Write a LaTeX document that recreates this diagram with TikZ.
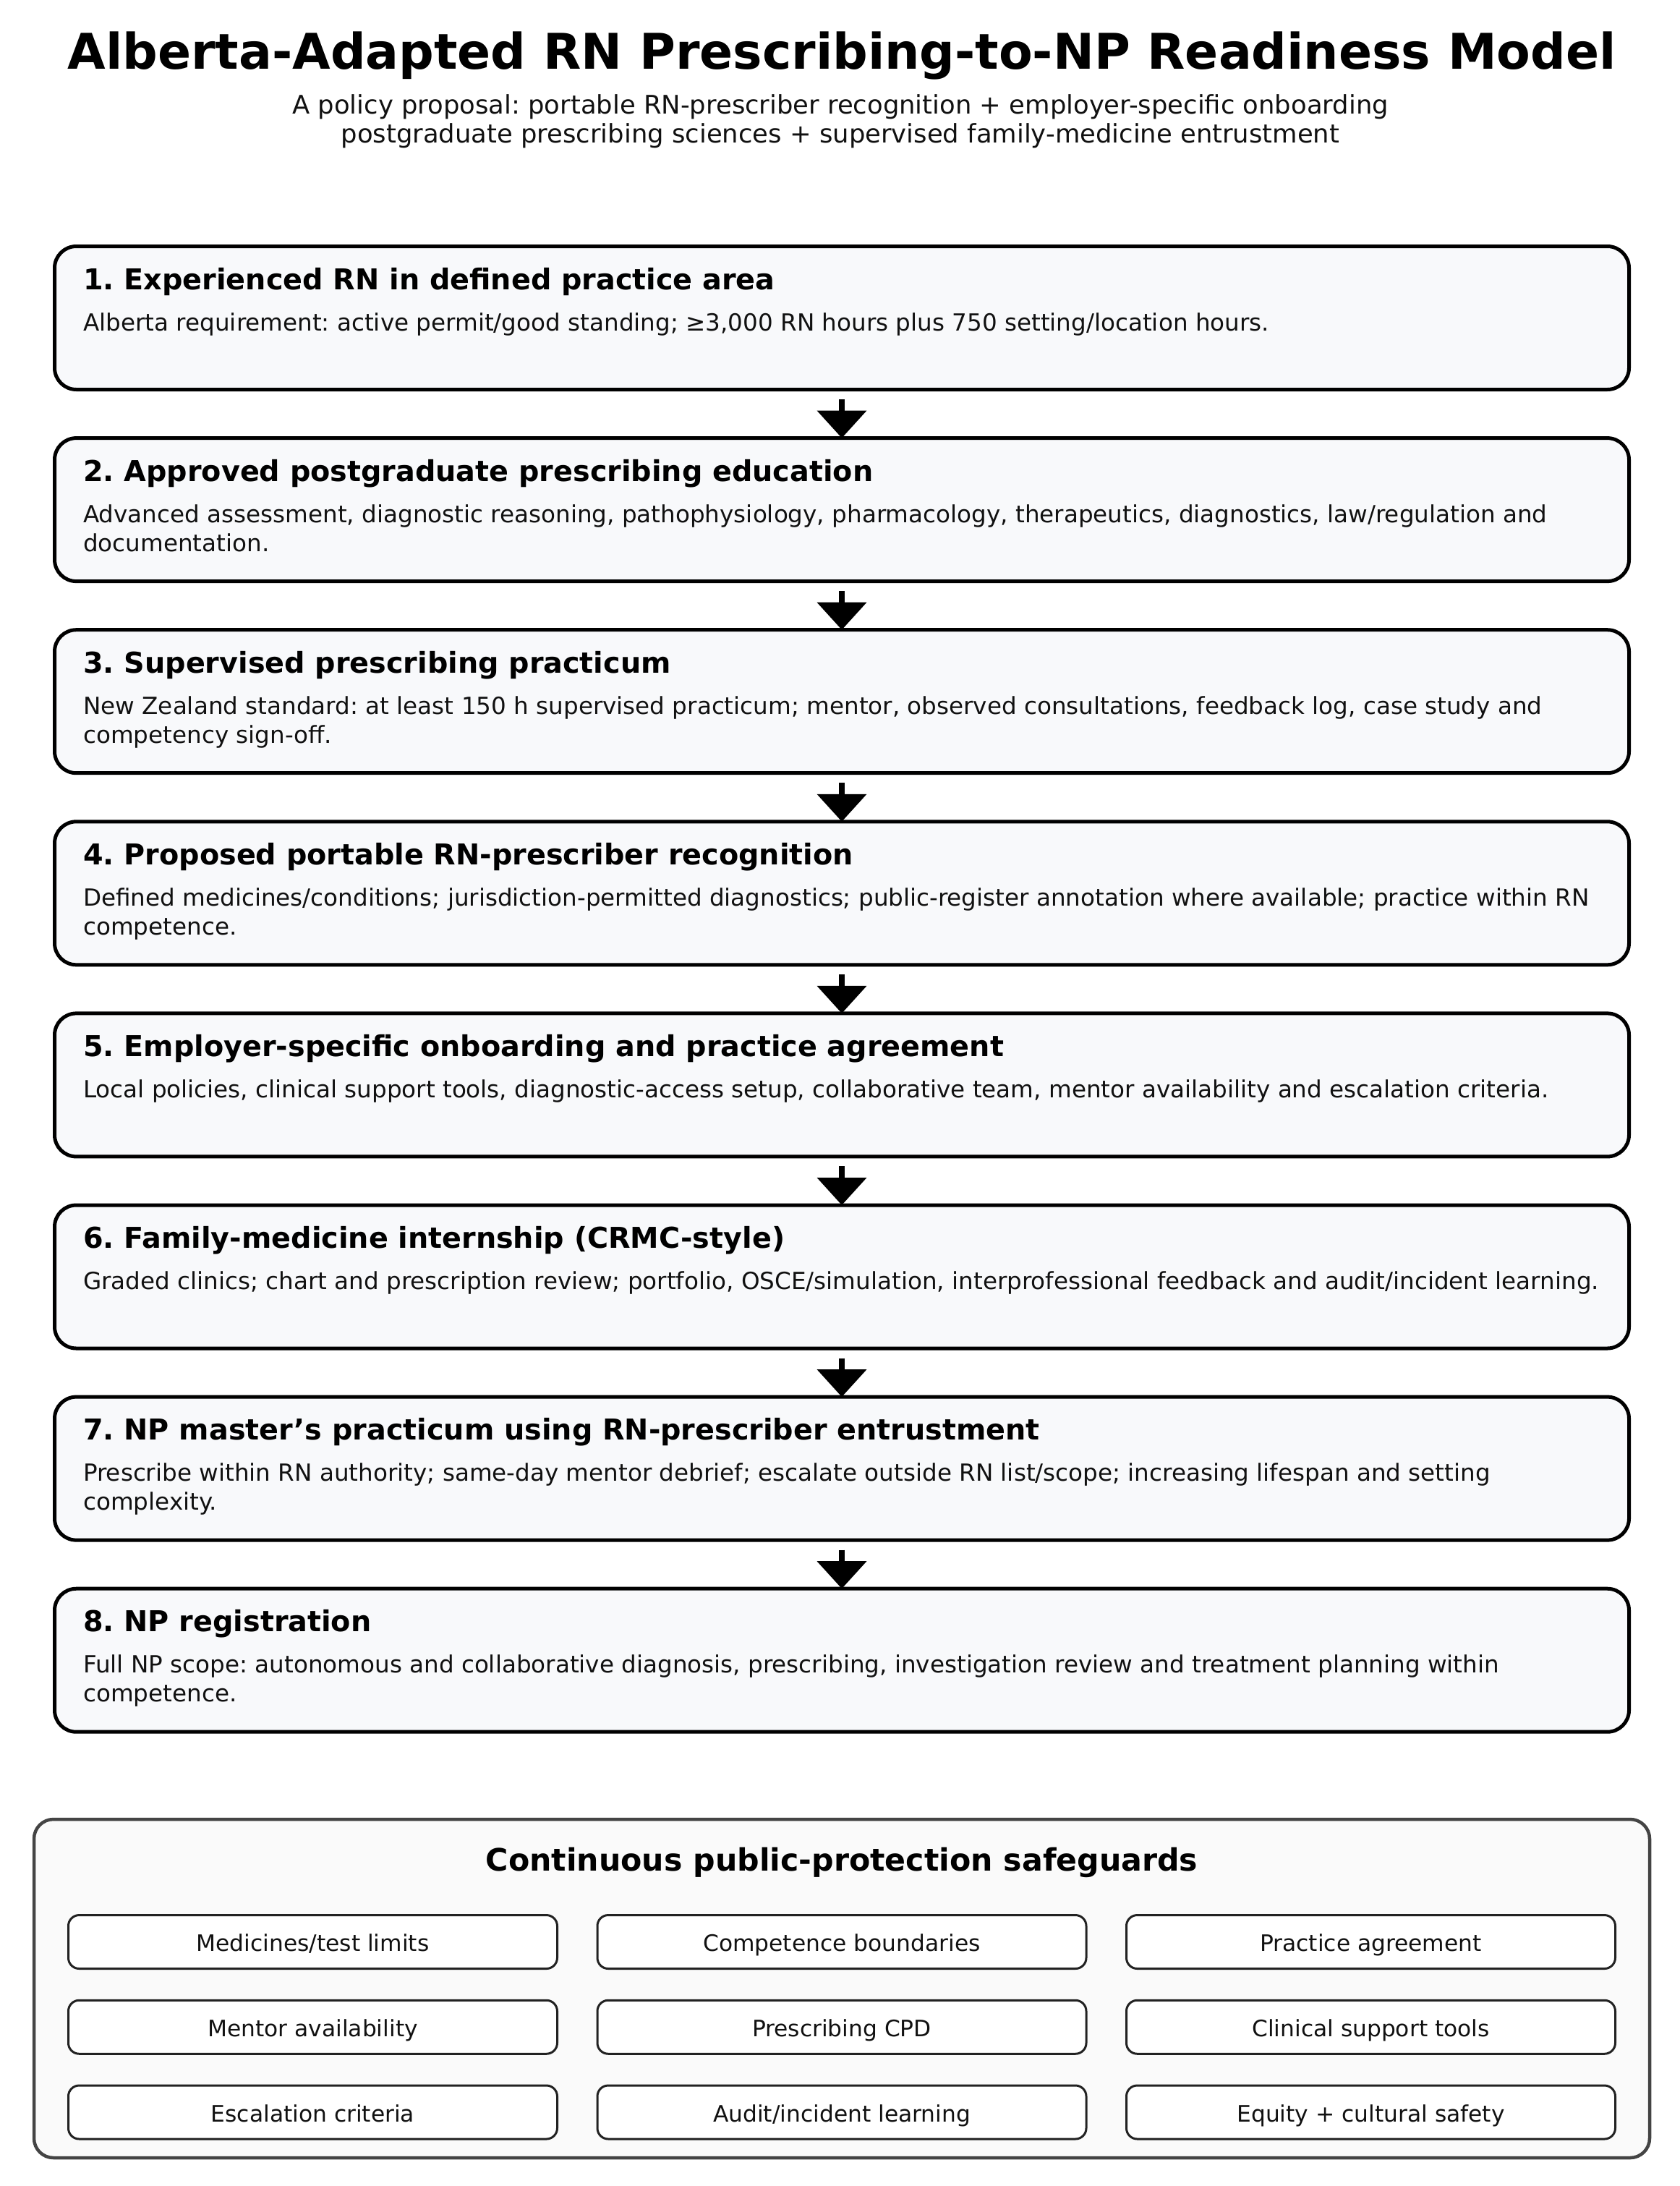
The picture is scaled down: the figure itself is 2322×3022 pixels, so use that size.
\documentclass[tikz,border=0pt]{standalone}
\usepackage{fontspec}
\setmainfont{DejaVu Sans}
\usetikzlibrary{arrows.meta}
\definecolor{boxfill}{HTML}{F8F9FB}
\definecolor{safefill}{HTML}{FAFAFA}
\definecolor{safeline}{HTML}{444444}
\definecolor{itemline}{HTML}{222222}
\definecolor{bodytext}{HTML}{111111}
\frenchspacing
\begin{document}
\begin{tikzpicture}[x=1pt,y=-1pt,
  mainbox/.style={draw=black, line width=5pt, fill=boxfill, rounded corners=30pt,
    minimum width=2177pt, minimum height=198pt, inner sep=0pt, outer sep=0pt},
  steptitle/.style={anchor=base west, inner sep=0pt, font=\fontsize{39.7}{48}\selectfont\bfseries},
  stepbody/.style={anchor=north west, inner sep=0pt, align=left, text=bodytext,
    font=\fontsize{32.6}{40}\selectfont},
  flowarrow/.style={line width=8pt, -{Triangle[width=67pt,length=38pt]}},
  safebox/.style={draw=safeline, line width=4.5pt, fill=safefill, rounded corners=27pt,
    minimum width=2234pt, minimum height=468pt, inner sep=0pt, outer sep=0pt},
  safetitle/.style={anchor=base, inner sep=0pt, font=\fontsize{42.7}{51}\selectfont\bfseries},
  safeitem/.style={draw=itemline, line width=3pt, fill=white, rounded corners=15pt,
    minimum width=676pt, minimum height=74pt, inner sep=0pt, outer sep=0pt},
  safelabel/.style={anchor=base, inner sep=0pt, text=bodytext, font=\fontsize{31.3}{38}\selectfont}
]
\useasboundingbox (0,0) rectangle (2322,3022);
\fill[white] (0,0) rectangle (2322,3022);

% Title
\node[anchor=base, inner sep=0pt, font=\fontsize{68}{80}\selectfont\bfseries] (title) at (1164,95)
  {Alberta-Adapted RN Prescribing-to-NP Readiness Model};
\node[anchor=base, inner sep=0pt, text=bodytext, font=\fontsize{35.4}{42}\selectfont] (sub1) at (1162,157)
  {A policy proposal: portable RN-prescriber recognition + employer-specific onboarding};
\node[anchor=base, inner sep=0pt, text=bodytext, font=\fontsize{35.4}{42}\selectfont] (sub2) at (1162,197)
  {postgraduate prescribing sciences + supervised family-medicine entrustment};

% Step boxes
\node[mainbox] (b1) at (1164,439.5) {};
\node[steptitle] (t1) at (115,400) {1. Experienced RN in defined practice area};
\node[stepbody] (d1) at (115,427) {\rule{0pt}{30pt}Alberta requirement: active permit/good standing; ≥3,000 RN hours plus 750 setting/location hours.};

\node[mainbox] (b2) at (1164,704.6) {};
\node[steptitle] (t2) at (115,665.1) {2. Approved postgraduate prescribing education};
\node[stepbody] (d2) at (115,692.1) {\rule{0pt}{30pt}Advanced assessment, diagnostic reasoning, pathophysiology, pharmacology, therapeutics, diagnostics, law/regulation and\\documentation.};

\node[mainbox] (b3) at (1164,969.7) {};
\node[steptitle] (t3) at (115,930.2) {3. Supervised prescribing practicum};
\node[stepbody] (d3) at (115,957.2) {\rule{0pt}{30pt}New Zealand standard: at least 150 h supervised practicum; mentor, observed consultations, feedback log, case study and\\competency sign-off.};

\node[mainbox] (b4) at (1164,1234.8) {};
\node[steptitle] (t4) at (115,1195.3) {4. Proposed portable RN-prescriber recognition};
\node[stepbody] (d4) at (115,1222.3) {\rule{0pt}{30pt}Defined medicines/conditions; jurisdiction-permitted diagnostics; public-register annotation where available; practice within RN\\competence.};

\node[mainbox] (b5) at (1164,1499.9) {};
\node[steptitle] (t5) at (115,1460.4) {5. Employer-specific onboarding and practice agreement};
\node[stepbody] (d5) at (115,1487.4) {\rule{0pt}{30pt}Local policies, clinical support tools, diagnostic-access setup, collaborative team, mentor availability and escalation criteria.};

\node[mainbox] (b6) at (1164,1765) {};
\node[steptitle] (t6) at (115,1725.5) {6. Family-medicine internship (CRMC-style)};
\node[stepbody] (d6) at (115,1752.5) {\rule{0pt}{30pt}Graded clinics; chart and prescription review; portfolio, OSCE/simulation, interprofessional feedback and audit/incident learning.};

\node[mainbox] (b7) at (1164,2030.1) {};
\node[steptitle] (t7) at (115,1990.6) {7. NP master’s practicum using RN-prescriber entrustment};
\node[stepbody] (d7) at (115,2017.6) {\rule{0pt}{30pt}Prescribe within RN authority; same-day mentor debrief; escalate outside RN list/scope; increasing lifespan and setting\\complexity.};

\node[mainbox] (b8) at (1164,2295.2) {};
\node[steptitle] (t8) at (115,2255.7) {8. NP registration};
\node[stepbody] (d8) at (115,2282.7) {\rule{0pt}{30pt}Full NP scope: autonomous and collaborative diagnosis, prescribing, investigation review and treatment planning within\\competence.};

% Arrows
\draw[flowarrow] ([yshift=-13.5pt]b1.south) -- (b2.north);
\draw[flowarrow] ([yshift=-13.5pt]b2.south) -- (b3.north);
\draw[flowarrow] ([yshift=-13.5pt]b3.south) -- (b4.north);
\draw[flowarrow] ([yshift=-13.5pt]b4.south) -- (b5.north);
\draw[flowarrow] ([yshift=-13.5pt]b5.south) -- (b6.north);
\draw[flowarrow] ([yshift=-13.5pt]b6.south) -- (b7.north);
\draw[flowarrow] ([yshift=-13.5pt]b7.south) -- (b8.north);

% Safeguards
\node[safebox] (safe) at (1164,2749) {};
\node[safetitle] (safet) at (1164,2586) {Continuous public-protection safeguards};

\node[safeitem] (s11) at (432.5,2684.5) {};
\node[safeitem] (s12) at (1164,2684.5) {};
\node[safeitem] (s13) at (1895.5,2684.5) {};
\node[safeitem] (s21) at (432.5,2802.25) {};
\node[safeitem] (s22) at (1164,2802.25) {};
\node[safeitem] (s23) at (1895.5,2802.25) {};
\node[safeitem] (s31) at (432.5,2920) {};
\node[safeitem] (s32) at (1164,2920) {};
\node[safeitem] (s33) at (1895.5,2920) {};

\node[safelabel] (l11) at (432.5,2697.5) {Medicines/test limits};
\node[safelabel] (l12) at (1164,2697.5) {Competence boundaries};
\node[safelabel] (l13) at (1895.5,2697.5) {Practice agreement};
\node[safelabel] (l21) at (432.5,2815.25) {Mentor availability};
\node[safelabel] (l22) at (1164,2815.25) {Prescribing CPD};
\node[safelabel] (l23) at (1895.5,2815.25) {Clinical support tools};
\node[safelabel] (l31) at (432.5,2933) {Escalation criteria};
\node[safelabel] (l32) at (1164,2933) {Audit/incident learning};
\node[safelabel] (l33) at (1895.5,2933) {Equity + cultural safety};
\end{tikzpicture}
\end{document}
